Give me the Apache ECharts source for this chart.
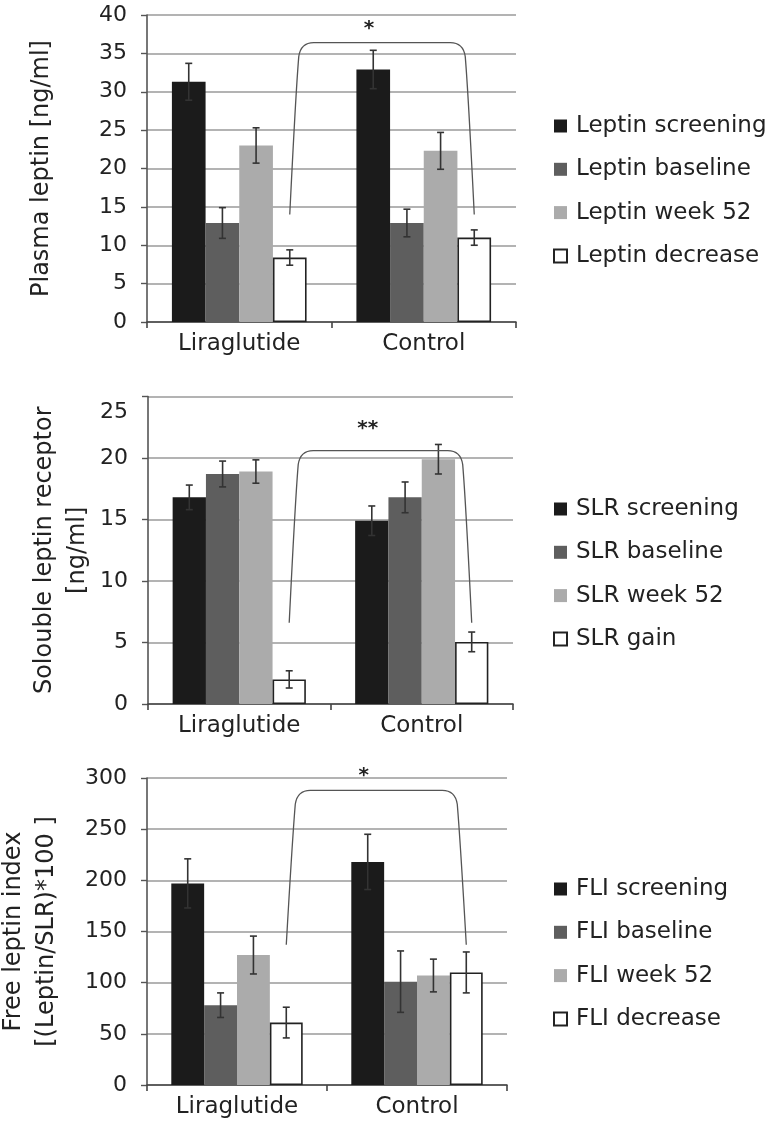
<!DOCTYPE html>
<html>
<head>
<meta charset="utf-8">
<script src="https://cdn.jsdelivr.net/npm/echarts@6/dist/echarts.min.js"></script>
<style>
html,body{margin:0;padding:0;background:#fff;}
#chart{width:765px;height:1125px;}
</style>
</head>
<body>
<div id="chart"></div>
<script>
// ---------- data ----------
const categories = ['Liraglutide', 'Control'];

const leptinNames = ['Leptin screening', 'Leptin baseline', 'Leptin week 52', 'Leptin decrease'];
const leptinValues = [[31.3, 32.9], [12.9, 12.9], [23.0, 22.3], [8.4, 11.0]];
const leptinErrors = [[2.4, 2.5], [2.0, 1.8], [2.3, 2.4], [1.0, 1.0]];
const leptinTicks = [0, 5, 10, 15, 20, 25, 30, 35, 40];
const leptinBracket = [0, 36.4, 14, 39];   // [cat, top, legBottom, markLevel]

const slrNames = ['SLR screening', 'SLR baseline', 'SLR week 52', 'SLR gain'];
const slrValues = [[16.8, 14.9], [18.7, 16.8], [18.9, 19.9], [2.0, 5.05]];
const slrErrors = [[1.0, 1.2], [1.05, 1.25], [0.95, 1.2], [0.7, 0.8]];
const slrTicks = [0, 5, 10, 15, 20, 25];
const slrBracket = [0, 20.6, 6.6, 22.9];

const fliNames = ['FLI screening', 'FLI baseline', 'FLI week 52', 'FLI decrease'];
const fliValues = [[197, 218], [78, 101], [127, 107], [61, 110]];
const fliErrors = [[24, 27], [12, 30], [18.5, 16], [15, 20]];
const fliTicks = [0, 50, 100, 150, 200, 250, 300];
const fliBracket = [0, 288, 137, 308];

const marks = ['*', '**', '*'];

// ---------- styles ----------
const FONT = 'DejaVu Sans';
const barColors = ['#1b1b1b', '#5e5e5e', '#ababab', '#ffffff'];
const GAP = 0.27;

const panels = [
  {names: leptinNames, values: leptinValues, errors: leptinErrors, ticks: leptinTicks, bracket: leptinBracket,
   title: 'Plasma leptin [ng/ml]', nameGap: 89, lowTop: false,
   grid: {left: 147, top: 15, width: 369, height: 307}, legendTop: 108},
  {names: slrNames, values: slrValues, errors: slrErrors, ticks: slrTicks, bracket: slrBracket,
   title: 'Solouble leptin receptor\n[ng/ml]', nameGap: 54, lowTop: true,
   grid: {left: 148, top: 396.5, width: 365, height: 307.5}, legendTop: 491},
  {names: fliNames, values: fliValues, errors: fliErrors, ticks: fliTicks, bracket: fliBracket,
   title: 'Free leptin index\n[(Leptin/SLR)*100 ]', nameGap: 84, lowTop: false,
   grid: {left: 147, top: 778, width: 360, height: 307}, legendTop: 871}
];

function errRender(n) {
  return function (params, api) {
    const cat = api.value(0), v = api.value(1), e = api.value(2), si = api.value(3);
    const c = api.coord([cat, v]);
    const band = api.size([1, 0])[0];
    const bw = band * (1 - GAP) / n;
    const x = c[0] + (si - (n - 1) / 2) * bw;
    const yt = api.coord([cat, v + e])[1];
    const yb = api.coord([cat, v - e])[1];
    const w = 3.5;
    const st = {stroke: '#333', lineWidth: 1.6};
    return {type: 'group', children: [
      {type: 'line', shape: {x1: x, y1: yt, x2: x, y2: yb}, style: st},
      {type: 'line', shape: {x1: x - w, y1: yt, x2: x + w, y2: yt}, style: st},
      {type: 'line', shape: {x1: x - w, y1: yb, x2: x + w, y2: yb}, style: st}
    ]};
  };
}

function bracketRender(n, mark) {
  return function (params, api) {
    const top = api.value(1), bot = api.value(2), lvl = api.value(3);
    const band = api.size([1, 0])[0];
    const bw = band * (1 - GAP) / n;
    const off = ((n - 1) - (n - 1) / 2) * bw;
    const xL = api.coord([0, bot])[0] + off;
    const xR = api.coord([1, bot])[0] + off;
    const yb = api.coord([0, bot])[1];
    const yt = api.coord([0, top])[1];
    const ym = api.coord([0, lvl])[1];
    const path = 'M' + xL + ' ' + yb +
      ' Q' + (xL + 6) + ' ' + (yt + 50) + ' ' + (xL + 9) + ' ' + (yt + 14) +
      ' Q' + (xL + 11) + ' ' + yt + ' ' + (xL + 24) + ' ' + yt +
      ' L' + (xR - 24) + ' ' + yt +
      ' Q' + (xR - 11) + ' ' + yt + ' ' + (xR - 9) + ' ' + (yt + 14) +
      ' Q' + (xR - 6) + ' ' + (yt + 50) + ' ' + xR + ' ' + yb;
    const xm = (xL + xR) / 2 - 0.07 * band;
    return {type: 'group', children: [
      {type: 'path', shape: {pathData: path}, style: {stroke: '#555', lineWidth: 1.3, fill: null}},
      {type: 'text', x: xm, y: ym + 6, style: {text: mark, fill: '#222', font: 'bold 20px "' + FONT + '"', align: 'center', verticalAlign: 'middle'}}
    ]};
  };
}

const grids = [], xAxes = [], yAxes = [], legends = [], series = [];
panels.forEach(function (p, pi) {
  grids.push(Object.assign({outerBoundsMode: 'none', containLabel: false}, p.grid));
  xAxes.push({
    type: 'category', gridIndex: pi, data: categories,
    axisLine: {show: true, lineStyle: {color: '#444', width: 1.6}},
    axisTick: {show: true, length: 6, lineStyle: {color: '#444', width: 1.6}},
    axisLabel: {fontSize: 23, color: '#222', margin: 11, fontFamily: FONT},
    splitLine: {show: false}
  });
  const t = p.ticks;
  const topVal = t[t.length - 1];
  yAxes.push({
    type: 'value', gridIndex: pi, min: t[0], max: topVal, interval: t[1] - t[0],
    name: p.title, nameLocation: 'middle', nameGap: p.nameGap, nameRotate: 90,
    nameTextStyle: {fontSize: 24, color: '#222', fontFamily: FONT, lineHeight: 33},
    axisLine: {show: true, lineStyle: {color: '#555', width: 1.6}},
    axisTick: {show: true, length: 6, lineStyle: {color: '#555', width: 1.4}},
    axisLabel: {
      fontSize: 22, color: '#222', margin: 20, fontFamily: FONT,
      formatter: function (v) { return (p.lowTop && v === topVal) ? '{low|' + v + '}' : String(v); },
      rich: {low: {fontSize: 22, color: '#222', fontFamily: FONT, padding: [32, 0, 0, 0]}}
    },
    splitLine: {show: true, lineStyle: {color: '#9a9a9a', width: 1.6}}
  });
  legends.push({
    data: p.names, orient: 'vertical', left: 548, top: p.legendTop,
    itemWidth: 13, itemHeight: 13, itemGap: 17.3, icon: 'rect', selectedMode: false,
    textStyle: {fontSize: 23, color: '#222', fontFamily: FONT, lineHeight: 26, padding: [0, 0, 0, 4]}
  });
  p.names.forEach(function (nm, si) {
    series.push({
      type: 'bar', name: nm, xAxisIndex: pi, yAxisIndex: pi,
      data: p.values[si], barGap: '0%', barCategoryGap: (GAP * 100) + '%',
      itemStyle: si === 3 ? {color: barColors[si], borderColor: '#222', borderWidth: 1.6}
                          : {color: barColors[si], borderWidth: 0},
      silent: true
    });
  });
  const errData = [];
  p.values.forEach(function (vals, si) {
    vals.forEach(function (v, ci) { errData.push([ci, v, p.errors[si][ci], si]); });
  });
  series.push({
    type: 'custom', xAxisIndex: pi, yAxisIndex: pi, renderItem: errRender(p.names.length),
    encode: {x: 0, y: 1}, data: errData, z: 10, silent: true, clip: false
  });
  series.push({
    type: 'custom', xAxisIndex: pi, yAxisIndex: pi, renderItem: bracketRender(p.names.length, marks[pi]),
    encode: {x: 0, y: 1}, data: [p.bracket], z: 11, silent: true, clip: false
  });
});

const chart = echarts.init(document.getElementById('chart'), null, {renderer: 'canvas'});
chart.setOption({
  animation: false,
  backgroundColor: '#fff',
  textStyle: {fontFamily: FONT},
  grid: grids, xAxis: xAxes, yAxis: yAxes, legend: legends, series: series
});
</script>
</body>
</html>
